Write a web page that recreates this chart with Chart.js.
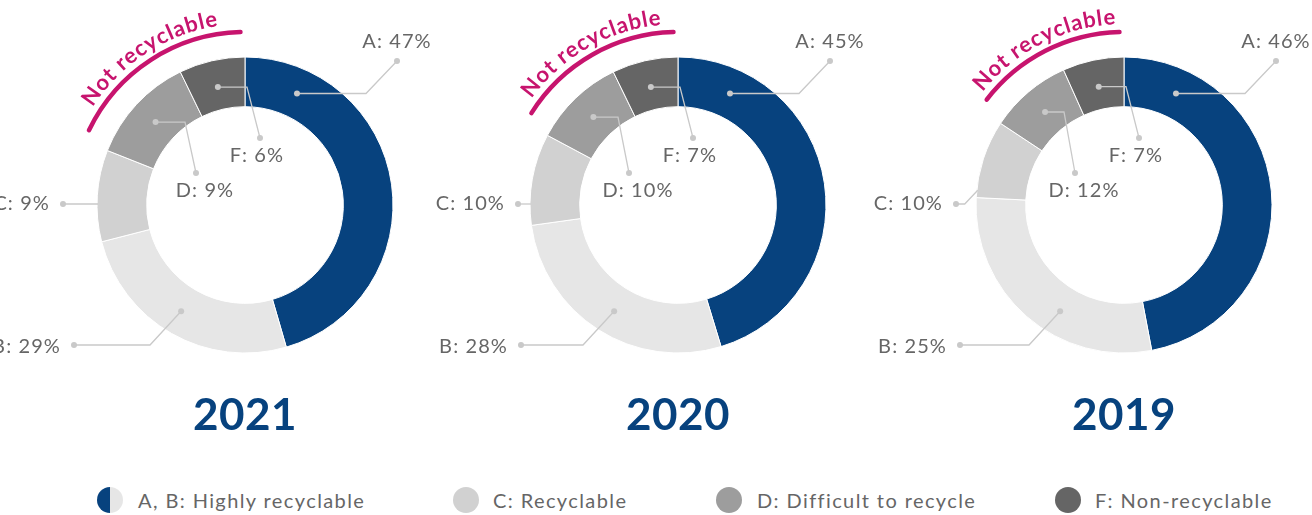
<!DOCTYPE html>
<html>
<head>
<meta charset="utf-8">
<script src="https://cdn.jsdelivr.net/npm/chart.js@4.4.1/dist/chart.umd.min.js"></script>
<style>
  html, body { margin:0; padding:0; background:#fff; }
  body { width:1312px; height:515px; position:relative; overflow:hidden; font-family: Lato, "Open Sans", sans-serif; }
  canvas.donut { position:absolute; top:0; }
  .year { position:absolute; top:388px; width:200px; margin-left:-100px; text-align:center; font-weight:700; font-size:44px; line-height:50px; color:#07427e; letter-spacing:0.5px; }
  .leg-icon { position:absolute; top:487px; width:26px; height:26px; border-radius:50%; }
  .leg-text { position:absolute; top:487px; line-height:26px; font-size:20px; color:#666; letter-spacing:1.4px; white-space:nowrap; }
</style>
</head>
<body>
<canvas id="c0" class="donut" width="500" height="400" style="left:-5px"></canvas>
<canvas id="c1" class="donut" width="500" height="400" style="left:428px"></canvas>
<canvas id="c2" class="donut" width="500" height="400" style="left:874px"></canvas>
<div id="years"></div>
<div id="legend"></div>
<script>
// ---- data ----
const categories = ['A', 'B', 'C', 'D', 'F'];
const years = ['2021', '2020', '2019'];
// segment sizes as drawn in the picture (%)
const values2021 = [45.5, 25.5, 10, 11.8, 7.2];
const values2020 = [45.3, 27.5, 10, 10, 7.2];
const values2019 = [47, 28.8, 8.5, 9, 6.7];
// printed labels
const labels2021 = ['A: 47%', 'B: 29%', 'C: 9%', 'D: 9%', 'F: 6%'];
const labels2020 = ['A: 45%', 'B: 28%', 'C: 10%', 'D: 10%', 'F: 7%'];
const labels2019 = ['A: 46%', 'B: 25%', 'C: 10%', 'D: 12%', 'F: 7%'];
const legendLabels = ['A, B: Highly recyclable', 'C: Recyclable', 'D: Difficult to recycle', 'F: Non-recyclable'];
const calloutText = 'Not recyclable';

// ---- styles ----
const segColors = ['#07427e', '#e6e6e6', '#d1d1d1', '#9d9d9d', '#656565'];
const magenta = '#c7146e';
const leaderColor = '#c9c9c9';
const labelColor = '#666666';
const perChart = [
  { bDot: -171, cDot: -182 },
  { bDot: -157, cDot: -160 },
  { bDot: -164, cDot: -168 }
];

const deg = Math.PI / 180;

const annotatePlugin = {
  id: 'annotate',
  afterDatasetsDraw(chart, args, opts) {
    const ctx = chart.ctx;
    const arcs = chart.getDatasetMeta(0).data;
    const cx = arcs[0].x, cy = arcs[0].y, R = arcs[0].outerRadius;
    const texts = opts.texts, L = opts.layout;
    const polar = (a, r) => ({ x: cx + Math.cos(a) * r, y: cy + Math.sin(a) * r });
    const mid = (i) => (arcs[i].startAngle + arcs[i].endAngle) / 2;

    ctx.save();
    ctx.strokeStyle = leaderColor;
    ctx.fillStyle = leaderColor;
    ctx.lineWidth = 1.3;
    const line = (pts) => {
      ctx.beginPath();
      ctx.moveTo(pts[0].x, pts[0].y);
      for (let k = 1; k < pts.length; k++) ctx.lineTo(pts[k].x, pts[k].y);
      ctx.stroke();
    };
    const dot = (p) => { ctx.beginPath(); ctx.arc(p.x, p.y, 3, 0, Math.PI * 2); ctx.fill(); };
    const labelsToDraw = [];

    // A
    {
      const p1 = polar(-90 * deg + 25 * deg, 123);
      const e = { x: cx + 121, y: p1.y };
      const p2 = { x: cx + 152, y: cy - 144 };
      line([p1, e, p2]); dot(p1); dot(p2);
      labelsToDraw.push([texts[0], cx + 152, cy - 163, 'center']);
    }
    // B
    {
      const p1 = polar(-90 * deg + 211 * deg, 124);
      const e = { x: cx - 95, y: cy + 140 };
      const p2 = { x: cx + L.bDot, y: cy + 140 };
      line([p1, e, p2]); dot(p1); dot(p2);
      labelsToDraw.push([texts[1], p2.x - 13, cy + 142, 'right']);
    }
    // C
    {
      const s = arcs[2].startAngle + 0.05, en = arcs[2].endAngle - 0.05;
      const t = Math.min(Math.max(Math.PI, s), en);
      const tgt = polar(t, R - 1);
      const p2 = { x: cx + L.cDot, y: cy - 1 };
      if (Math.abs(tgt.y - p2.y) < 3) line([p2, { x: tgt.x, y: p2.y }]);
      else line([p2, { x: tgt.x - 13, y: p2.y }, tgt]);
      dot(p2);
      labelsToDraw.push([texts[2], p2.x - 13, cy - 1, 'right']);
    }
    // D
    {
      const p1 = polar(mid(3), 122);
      const e = { x: cx - 60, y: p1.y };
      const p2 = { x: cx - 49, y: cy - 32 };
      line([p1, e, p2]); dot(p1); dot(p2);
      labelsToDraw.push([texts[3], p2.x + 9, cy - 14, 'center']);
    }
    // F
    {
      const p1 = polar(mid(4), 121);
      const e = { x: cx + 2, y: p1.y };
      const p2 = { x: cx + 15, y: cy - 67 };
      line([p1, e, p2]); dot(p1); dot(p2);
      labelsToDraw.push([texts[4], p2.x - 3, cy - 49, 'center']);
    }

    ctx.fillStyle = labelColor;
    ctx.font = '20px Lato, "Open Sans", sans-serif';
    ctx.letterSpacing = '1.1px';
    ctx.textBaseline = 'middle';
    for (const [t, x, y, al] of labelsToDraw) {
      ctx.textAlign = al;
      ctx.fillText(t, x, y);
    }

    // "Not recyclable" arc
    const a0 = arcs[3].startAngle + 4 * deg;
    const a1 = 270 * deg - 1.5 * deg;
    const rArc = R + 25;
    ctx.strokeStyle = magenta;
    ctx.lineWidth = 4.5;
    ctx.lineCap = 'round';
    ctx.beginPath();
    ctx.arc(cx, cy, rArc, a0, a1);
    ctx.stroke();

    ctx.fillStyle = magenta;
    ctx.font = 'bold 22px Lato, "Open Sans", sans-serif';
    ctx.letterSpacing = '0px';
    ctx.textAlign = 'center';
    ctx.textBaseline = 'alphabetic';
    const rText = R + 33;
    const sp = 0.9;
    const widths = [...calloutText].map(ch => ctx.measureText(ch).width + sp);
    const total = widths.reduce((a, b) => a + b, 0) - sp;
    let ang = (a0 + a1) / 2 - total / rText / 2;
    [...calloutText].forEach((ch, k) => {
      const w = widths[k] - sp;
      const a = ang + (w / 2) / rText;
      ctx.save();
      ctx.translate(cx + Math.cos(a) * rText, cy + Math.sin(a) * rText);
      ctx.rotate(a + Math.PI / 2);
      ctx.fillText(ch, 0, 0);
      ctx.restore();
      ang += widths[k] / rText;
    });
    ctx.restore();
  }
};

const allValues = [values2021, values2020, values2019];
const allLabels = [labels2021, labels2020, labels2019];

allValues.forEach((vals, i) => {
  new Chart(document.getElementById('c' + i), {
    type: 'doughnut',
    data: {
      labels: categories,
      datasets: [{
        data: vals,
        backgroundColor: segColors,
        borderColor: '#ffffff',
        borderWidth: 1,
        hoverOffset: 0
      }]
    },
    options: {
      responsive: false,
      animation: false,
      events: [],
      radius: 148,
      cutout: 98,
      layout: { padding: { left: 102, right: 102, top: 57, bottom: 47 } },
      plugins: {
        legend: { display: false },
        tooltip: { enabled: false },
        annotate: { texts: allLabels[i], layout: perChart[i] }
      }
    },
    plugins: [annotatePlugin]
  });
});

// year titles
const yearX = [245, 678, 1124];
const yearsDiv = document.getElementById('years');
years.forEach((y, i) => {
  const d = document.createElement('div');
  d.className = 'year';
  d.style.left = yearX[i] + 'px';
  d.textContent = y;
  yearsDiv.appendChild(d);
});

// legend
const legIconX = [97, 453, 716, 1055];
const legTextX = [138, 493, 757, 1095];
const legFills = [
  'linear-gradient(to right, ' + segColors[0] + ' 50%, ' + segColors[1] + ' 50%)',
  segColors[2], segColors[3], segColors[4]
];
const legendDiv = document.getElementById('legend');
legendLabels.forEach((t, i) => {
  const ic = document.createElement('div');
  ic.className = 'leg-icon';
  ic.style.left = legIconX[i] + 'px';
  ic.style.background = legFills[i];
  legendDiv.appendChild(ic);
  const tx = document.createElement('div');
  tx.className = 'leg-text';
  tx.style.left = legTextX[i] + 'px';
  tx.textContent = t;
  legendDiv.appendChild(tx);
});
</script>
</body>
</html>
